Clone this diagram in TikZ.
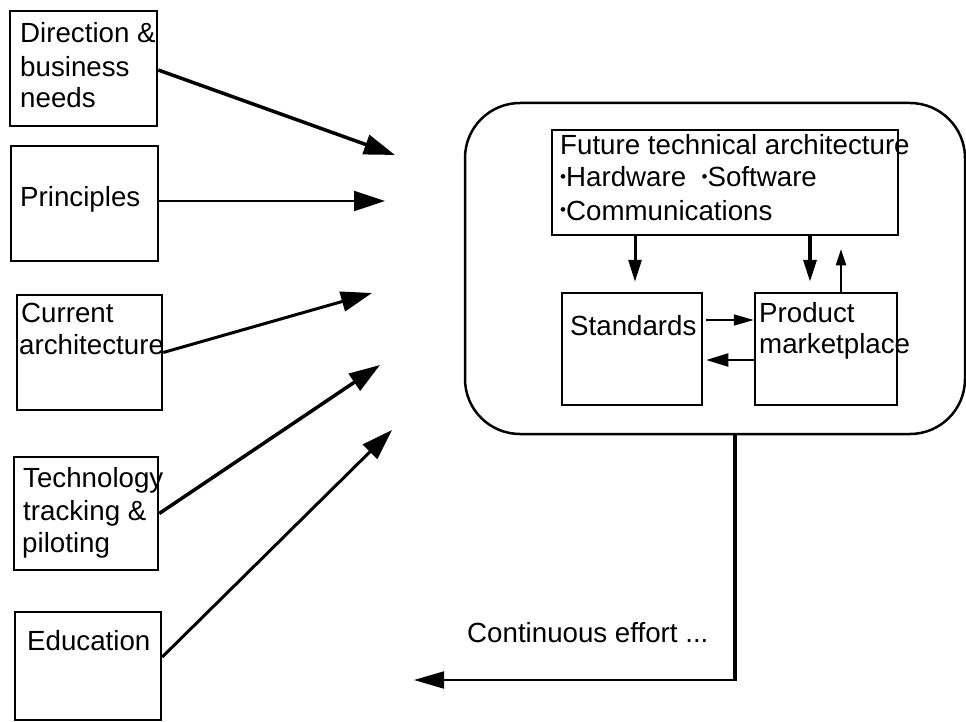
\documentclass[tikz,border=0pt]{standalone}
\usepackage{fontspec}
\setmainfont{Liberation Sans}
\usetikzlibrary{arrows.meta}
\newcommand{\smallbul}{\raisebox{0.28ex}{\fontsize{17}{20}\selectfont•}}
\begin{document}
\begin{tikzpicture}[x=1pt,y=-1pt,
  box/.style={draw,line width=2.5pt,rectangle,inner sep=0pt},
  lbl/.style={anchor=base west,inner sep=0pt,font=\fontsize{27.7}{33}\selectfont},
  bigtip/.style={-{Triangle[length=31pt,width=20pt]}},
  smalltip/.style={-{Triangle[length=22pt,width=13pt]}}
]
\useasboundingbox (0,0) rectangle (966,722);
% left boxes
\node[box,minimum width=147pt,minimum height=115pt] (b1) at (83.5,68.5) {};
\node[box,minimum width=147pt,minimum height=115pt] (b2) at (84.5,203.5) {};
\node[box,minimum width=145pt,minimum height=115pt] (b3) at (89.5,352.5) {};
\node[box,minimum width=144pt,minimum height=113pt] (b4) at (86,513.5) {};
\node[box,minimum width=146pt,minimum height=108pt] (b5) at (88,666) {};
% left texts
\node[lbl] (t1a) at (20,43) {Direction \&};
\node[lbl] (t1b) at (20,77) {business};
\node[lbl] (t1c) at (20,108) {needs};
\node[lbl] (t2) at (20,207) {Principles};
\node[lbl] (t3a) at (21,322) {Current};
\node[lbl] (t3b) at (19,354) {architecture};
\node[lbl] (t4a) at (23,487) {Technology};
\node[lbl] (t4b) at (23,520) {tracking \&};
\node[lbl] (t4c) at (22,552) {piloting};
\node[lbl] (t5) at (27,650) {Education};
% arrow tips (free ends)
\coordinate (e1) at (395,155);
\coordinate (e2) at (385,201);
\coordinate (e3) at (372,293);
\coordinate (e4) at (380,365);
\coordinate (e5) at (392,430);
\draw[bigtip,line width=3.5pt] ([yshift=-1.5pt]b1.east) -- (e1);
\draw[bigtip,line width=2pt] ([yshift=2.5pt]b2.east) -- (e2);
\draw[bigtip,line width=3pt] (b3.east) -- (e3);
\draw[bigtip,line width=3.5pt] (b4.east) -- (e4);
\draw[bigtip,line width=3pt] ([yshift=9pt]b5.east) -- (e5);
% container
\node[draw,line width=2.5pt,rounded corners=55pt,minimum width=500pt,minimum height=331pt,inner sep=0pt] (cont) at (715,268.5) {};
% inner boxes
\node[box,minimum width=346pt,minimum height=105pt] (fut) at (725,182.5) {};
\node[box,minimum width=140pt,minimum height=112pt] (std) at (632,349) {};
\node[box,minimum width=142pt,minimum height=112pt] (prod) at (826,349) {};
\node[lbl] (ft1) at (560,155) {Future technical architecture};
\node[lbl] (ft2) at (560,187) {\smallbul Hardware\ \ \smallbul Software};
\node[lbl] (ft3) at (560,220) {\smallbul Communications};
\node[lbl] (st) at (570,335) {Standards};
\node[lbl] (pt1) at (759,322) {Product};
\node[lbl] (pt2) at (759,353) {marketplace};
% inner arrows
\coordinate (xa) at (635,0);
\coordinate (xb) at (810,0);
\coordinate (xc) at (841,0);
\coordinate (ya) at (0,320);
\coordinate (yb) at (0,360);
\draw[smalltip,line width=3pt,shorten >=10pt] (fut.south -| xa) -- (std.north -| xa);
\draw[smalltip,line width=3.5pt,shorten >=10pt] (fut.south -| xb) -- (prod.north -| xb);
\draw[-{Triangle[length=16pt,width=10pt]},line width=2pt,shorten >=13pt] (prod.north -| xc) -- (fut.south -| xc);
\draw[-{Triangle[length=20pt,width=11pt]},line width=1.8pt,shorten <=3pt] (std.east |- ya) -- (prod.west |- ya);
\draw[-{Triangle[length=22pt,width=13pt]},line width=2.2pt,shorten >=3pt] (prod.west |- yb) -- (std.east |- yb);
% continuous effort
\coordinate (cx) at (735,680);
\coordinate (ce) at (414,680);
\draw[line width=3.5pt] (cont.south -| cx) -- ([yshift=-1pt]cx);
\draw[-{Triangle[length=30pt,width=17pt]},line width=2pt] ([xshift=1.75pt]cx) -- (ce);
\node[lbl] (cet) at (467,642) {Continuous effort ...};
\end{tikzpicture}
\end{document}
